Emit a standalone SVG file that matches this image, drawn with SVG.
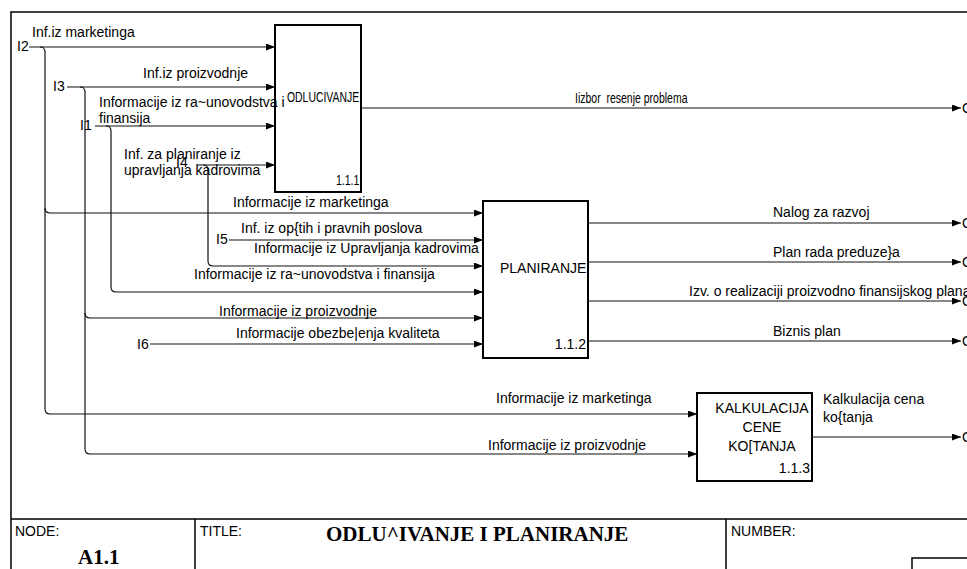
<svg xmlns="http://www.w3.org/2000/svg" width="967" height="569" viewBox="0 0 967 569">
  <defs>
    <marker id="arr" markerWidth="9" markerHeight="7" refX="9" refY="3.5" orient="auto" markerUnits="userSpaceOnUse">
      <path d="M0,0 L9,3.5 L0,7 Z" fill="#000"/>
    </marker>
    <style>
      text { font-family: "Liberation Sans", Arial, sans-serif; font-size: 14px; fill: #000; white-space: pre; }
      .ttl { font-family: "Liberation Serif", "Times New Roman", serif; font-weight: bold; font-size: 21px; }
      .box { fill: none; stroke: #000; stroke-width: 2; }
      .frame { fill: none; stroke: #000; stroke-width: 1.5; }
      .ln { fill: none; stroke: #111; stroke-width: 1.2; }
      .ar { fill: none; stroke: #111; stroke-width: 1.2; marker-end: url(#arr); }
      .mid { text-anchor: middle; }
      .end { text-anchor: end; }
    </style>
  </defs>

  <rect width="967" height="569" fill="#fff"/>

  <!-- drawing frame and title block -->
  <g id="frame">
    <path class="frame" d="M11,569 V12 H967"/>
    <path class="frame" d="M11,519 H967 M195,519 V569 M726,519 V569"/>
    <path class="frame" d="M912,569 V558 H967"/>
    <text x="15" y="536">NODE:</text>
    <text class="ttl" x="78" y="564">A1.1</text>
    <text x="200" y="536">TITLE:</text>
    <text class="ttl" x="326" y="541">ODLU^IVANJE I PLANIRANJE</text>
    <text x="731" y="536">NUMBER:</text>
  </g>

  <!-- activity 1.1.1 (narrow lettering) -->
  <g id="odlucivanje">
    <rect class="box" x="275" y="25" width="86" height="167"/>
    <text transform="translate(287,102) scale(0.745,1)">ODLUCIVANJE</text>
    <text transform="translate(336,185) scale(0.75,1)">1.1.1</text>
  </g>

  <!-- activity 1.1.2 -->
  <g id="planiranje">
    <rect class="box" x="483" y="201" width="105" height="157"/>
    <text x="500" y="273">PLANIRANJE</text>
    <text class="end" x="586" y="349">1.1.2</text>
  </g>

  <!-- activity 1.1.3 -->
  <g id="kalkulacija">
    <rect class="box" x="697" y="393" width="115" height="88"/>
    <text class="mid" x="762" y="413">KALKULACIJA</text>
    <text class="mid" x="762" y="432">CENE</text>
    <text class="mid" x="762" y="451">KO[TANJA</text>
    <text class="end" x="810" y="473">1.1.3</text>
  </g>

  <!-- connectors -->
  <g id="connectors">
    <!-- inputs to 1.1.1 -->
    <path class="ar" d="M29,47 H275"/>
    <path class="ar" d="M67,87 H275"/>
    <path class="ar" d="M95,126 H275"/>
    <path class="ar" d="M197,165 H275"/>

    <!-- I2 branch -->
    <path class="ln" d="M40,47 Q45,47 45,52 V409 Q45,414 50,414"/>
    <path class="ar" d="M45,208 Q45,213 50,213 H483"/>
    <path class="ar" d="M50,414 H697"/>

    <!-- I3 branch -->
    <path class="ln" d="M80,87 Q85,87 85,92 V449 Q85,454 90,454"/>
    <path class="ar" d="M85,313 Q85,318 90,318 H483"/>
    <path class="ar" d="M90,454 H697"/>

    <!-- I1 branch -->
    <path class="ar" d="M106,126 Q111,126 111,131 V287 Q111,292 116,292 H483"/>

    <!-- I4 branch -->
    <path class="ar" d="M203,165 Q208,165 208,170 V261 Q208,266 213,266 H483"/>

    <!-- I5, I6 -->
    <path class="ar" d="M229,240 H483"/>
    <path class="ar" d="M150,344 H483"/>

    <!-- outputs -->
    <path class="ar" d="M361,108 H961"/>
    <path class="ar" d="M588,223 H961"/>
    <path class="ar" d="M588,262 H961"/>
    <path class="ar" d="M588,301 H961"/>
    <path class="ar" d="M588,341 H961"/>
    <path class="ar" d="M812,437 H961"/>

    <!-- connector labels -->
    <text x="32" y="37">Inf.iz marketinga</text>
    <text x="17" y="51">I2</text>
    <text x="143" y="78">Inf.iz proizvodnje</text>
    <text x="53" y="91">I3</text>
    <text x="99" y="107">Informacije iz ra~unovodstva i</text>
    <text x="99" y="123">finansija</text>
    <text x="80" y="130">I1</text>
    <text x="124" y="159">Inf. za planiranje iz</text>
    <text x="124" y="175">upravljanja kadrovima</text>
    <text x="176" y="167">I4</text>

    <text x="233" y="207">Informacije iz marketinga</text>
    <text x="241" y="233">Inf. iz op{tih i pravnih poslova</text>
    <text x="216" y="244">I5</text>
    <text x="254" y="253">Informacije iz Upravljanja kadrovima</text>
    <text x="194" y="279">Informacije iz ra~unovodstva i finansija</text>
    <text x="219" y="316">Informacije iz proizvodnje</text>
    <text x="236" y="338">Informacije obezbe|enja kvaliteta</text>
    <text x="137" y="349">I6</text>

    <text x="496" y="403">Informacije iz marketinga</text>
    <text x="488" y="450">Informacije iz proizvodnje</text>

    <text transform="translate(575,103) scale(0.75,1)">Iizbor  resenje problema</text>
    <text x="773" y="217">Nalog za razvoj</text>
    <text x="773" y="257">Plan rada preduze}a</text>
    <text x="689" y="296">Izv. o realizaciji proizvodno finansijskog plana</text>
    <text x="773" y="336">Biznis plan</text>
    <text x="823" y="404">Kalkulacija cena</text>
    <text x="823" y="422">ko{tanja</text>

    <text x="962" y="113">O</text>
    <text x="962" y="228">O</text>
    <text x="962" y="267">O</text>
    <text x="962" y="306">O</text>
    <text x="962" y="346">O</text>
    <text x="962" y="442">O</text>
  </g>
</svg>
